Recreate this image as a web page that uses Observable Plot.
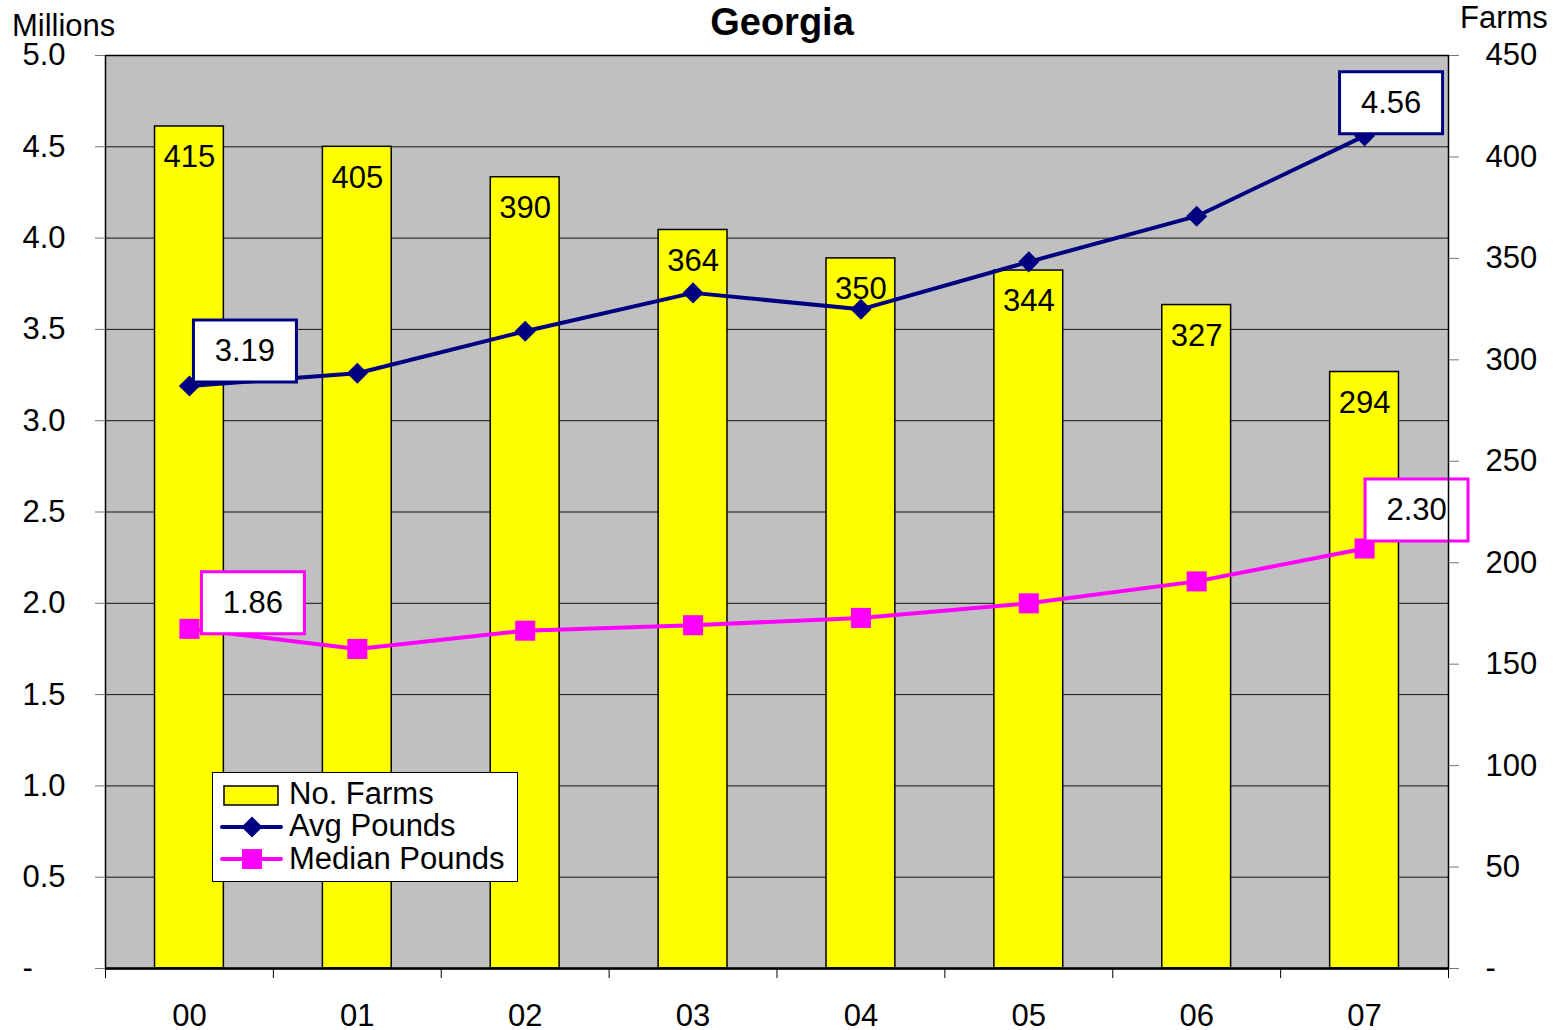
<!DOCTYPE html>
<html><head><meta charset="utf-8">
<script src="https://cdn.jsdelivr.net/npm/d3@7"></script>
<script src="https://cdn.jsdelivr.net/npm/@observablehq/plot@0.6"></script>
<style>
body{margin:0;background:#fff;}
#wrap{position:relative;width:1566px;height:1030px;font-family:"Liberation Sans",Arial,sans-serif;}
#legend{position:absolute;left:212px;top:772px;}
</style></head><body><div id="wrap"></div>
<script>
// ---- data ----
const years = ["00","01","02","03","04","05","06","07"];
const farms = [415,405,390,364,350,344,327,294];
const avgPounds = [3.19,3.26,3.49,3.70,3.61,3.87,4.12,4.56];
const medianPounds = [1.86,1.75,1.85,1.88,1.92,2.00,2.12,2.30];
const leftTicks = [0,0.5,1,1.5,2,2.5,3,3.5,4,4.5,5];
const rightTicks = [0,50,100,150,200,250,300,350,400,450];
const seriesNames = ["No. Farms","Avg Pounds","Median Pounds"];
const titleText = "Georgia";
const leftUnit = "Millions";
const rightUnit = "Farms";

// ---- build ----
const k = 5/450; // farms -> left axis units
const rows = years.map((year,i)=>({year, farms: farms[i], avg: avgPounds[i], median: medianPounds[i]}));
const first = rows[0], last = rows[rows.length-1];

const W=1566,H=1030,mL=105,mR=118,mT=55,mB=62;
const step = (W-mL-mR)/years.length;
const NAVY="#000080", MAG="#ff00ff";
const FS=31;
const box = {draw(ctx){ctx.rect(-51.5,-31,103,62);}};

function callout(row,key,color,dx,dy){
  return [
    Plot.dot([row],{x:"year",y:key,symbol:box,fill:"white",stroke:color,strokeWidth:3,dx,dy}),
    Plot.text([row],{x:"year",y:key,text:d=>d[key].toFixed(2),dx,dy,fontSize:FS,fill:"#000"})
  ];
}

const chart = Plot.plot({
  width:W,height:H,marginLeft:mL,marginRight:mR,marginTop:mT,marginBottom:mB,
  style:{fontFamily:'"Liberation Sans", Arial, sans-serif',fontSize:FS+"px",color:"#000",background:"transparent",overflow:"visible"},
  x:{type:"band",domain:years,paddingInner:0.59,paddingOuter:0.295,round:false,label:null},
  y:{domain:[0,5],label:null},
  marks:[
    Plot.frame({fill:"#c0c0c0"}),
    Plot.gridY({ticks:leftTicks,stroke:"#000",strokeOpacity:0.9,strokeWidth:1}),
    Plot.barY(rows,{x:"year",y:d=>d.farms*k,fill:"#ffff00",stroke:"#000",strokeWidth:1.5}),
    Plot.text(rows,{x:"year",y:d=>d.farms*k,text:d=>String(d.farms),dy:31,fontSize:FS,fill:"#000"}),
    Plot.line(rows,{x:"year",y:"avg",stroke:NAVY,strokeWidth:4}),
    Plot.dot(rows,{x:"year",y:"avg",symbol:"diamond2",r:9.5,fill:NAVY}),
    Plot.line(rows,{x:"year",y:"median",stroke:MAG,strokeWidth:4}),
    Plot.dot(rows,{x:"year",y:"median",symbol:"square",r:11.3,fill:MAG}),
    ...callout(first,"avg",NAVY,55.5,-35),
    ...callout(last,"avg",NAVY,26.5,-33),
    ...callout(first,"median",MAG,63.5,-26),
    ...callout(last,"median",MAG,52,-38.5),
    Plot.frame({stroke:"#000",strokeWidth:1.5}),
    Plot.ruleY([0],{stroke:"#000",strokeWidth:2.5}),
    Plot.axisY({ticks:leftTicks,anchor:"left",tickSize:10,tickPadding:73,textAnchor:"start",
      tickFormat:d=>d===0?"-":d.toFixed(1),stroke:"#777",label:null}),
    Plot.axisY({ticks:rightTicks.map(v=>v*k),anchor:"right",tickSize:10,tickPadding:27,
      tickFormat:d=>{const v=Math.round(d/k);return v===0?"-":String(v);},stroke:"#777",label:null}),
    Plot.axisX({tickSize:0,tickPadding:35,label:null}),
    Plot.axisX({tickSize:10,tickFormat:()=>"",dx:-step/2,stroke:"#000",strokeOpacity:1,label:null}),
    Plot.axisX({ticks:[years[years.length-1]],tickSize:10,tickFormat:()=>"",dx:step/2,stroke:"#000",strokeOpacity:1,label:null})
  ]
});

const wrap=document.getElementById("wrap");
wrap.appendChild(chart);
const svg=d3.select(chart);
svg.append("text").attr("x",12).attr("y",36).attr("text-anchor","start").attr("font-size",FS).attr("fill","#000").text(leftUnit);
svg.append("text").attr("x",1460).attr("y",28).attr("text-anchor","start").attr("font-size",FS).attr("fill","#000").text(rightUnit);
svg.append("text").attr("x",782).attr("y",35).attr("text-anchor","middle").attr("font-size",38).attr("font-weight","bold").attr("fill","#000").text(titleText);

// ---- legend ----
const lg=d3.select(wrap).append("div").attr("id","legend").append("svg").attr("width",307).attr("height",111)
  .style("font-family",'"Liberation Sans", Arial, sans-serif');
lg.append("rect").attr("x",0.5).attr("y",0.5).attr("width",305).attr("height",109).attr("fill","#fff").attr("stroke","#000");
lg.append("rect").attr("x",12).attr("y",14).attr("width",54).attr("height",19).attr("fill","#ffff00").attr("stroke","#000").attr("stroke-width",1.5);
lg.append("line").attr("x1",10).attr("x2",69).attr("y1",55).attr("y2",55).attr("stroke",NAVY).attr("stroke-width",4).attr("stroke-linecap","round");
lg.append("path").attr("d","M40,44.5L50.5,55L40,65.5L29.5,55Z").attr("fill",NAVY);
lg.append("line").attr("x1",10).attr("x2",69).attr("y1",87).attr("y2",87).attr("stroke",MAG).attr("stroke-width",4).attr("stroke-linecap","round");
lg.append("rect").attr("x",30).attr("y",77).attr("width",20).attr("height",20).attr("fill",MAG);
[32,64,97].forEach((b,i)=>lg.append("text").attr("x",77).attr("y",b).attr("font-size",FS).attr("fill","#000").text(seriesNames[i]));
</script></body></html>
